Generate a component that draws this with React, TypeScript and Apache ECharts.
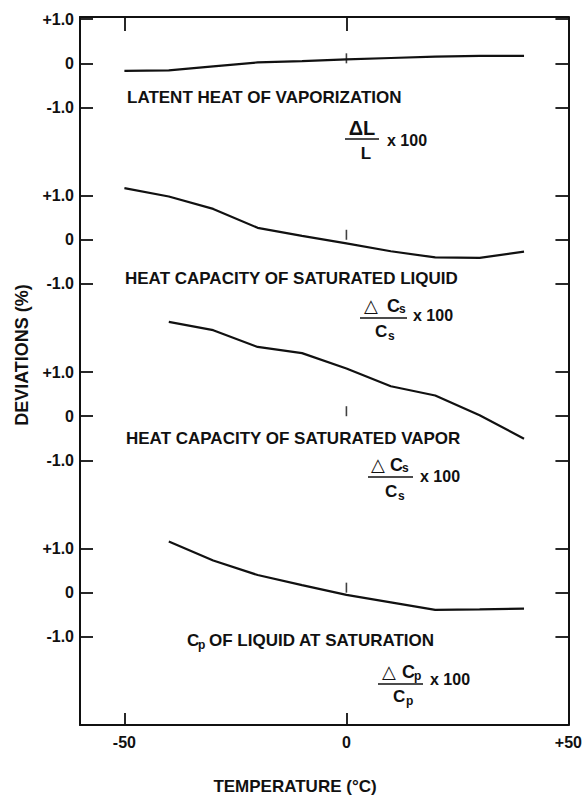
import React, { useEffect, useRef } from "react";
import * as echarts from "echarts";

// ---- data ----
const TEMPS_A = [-50, -40, -30, -20, -10, 0, 10, 20, 30, 40];
const TEMPS_B = [-40, -30, -20, -10, 0, 10, 20, 30, 40];
const LATENT_HEAT = [-0.17, -0.16, -0.07, 0.02, 0.05, 0.09, 0.12, 0.15, 0.17, 0.17];
const SAT_LIQUID = [1.17, 0.98, 0.7, 0.27, 0.09, -0.08, -0.26, -0.4, -0.41, -0.27];
const SAT_VAPOR = [2.14, 1.95, 1.57, 1.43, 1.08, 0.68, 0.47, 0.02, -0.51];
const CP_LIQUID = [1.16, 0.73, 0.4, 0.17, -0.05, -0.22, -0.39, -0.38, -0.36];
const X_TICK_LABELS = [-50, 0, 50];
const X_TICKS = [-50, 0];
const Y_REL_TICKS = [1, 0, -1];
const PANEL_NAMES = [
  "LATENT HEAT OF VAPORIZATION",
  "HEAT CAPACITY OF SATURATED LIQUID",
  "HEAT CAPACITY OF SATURATED VAPOR",
  "OF LIQUID AT SATURATION",
];

// layout: each panel is stacked 4 units below the previous one
const PANEL_STEP = 4;
const panelOffset = (i: number) => -PANEL_STEP * i;

const FONT = '"Liberation Sans", Arial, "DejaVu Sans", sans-serif';
const INK = "#111";

const txt = (
  text: string,
  x: number,
  y: number,
  size: number,
  align: string = "left",
  extra: any = {}
) => ({
  type: "text",
  x,
  y,
  ...extra,
  style: {
    text,
    font: `bold ${size}px ${FONT}`,
    fill: INK,
    align,
    verticalAlign: "middle",
  },
});

const bar = (x1: number, x2: number, y: number) => ({
  type: "line",
  shape: { x1, y1: y, x2, y2: y },
  style: { stroke: INK, lineWidth: 1.6 },
});

export default function App() {
  const ref = useRef<HTMLDivElement>(null);

  useEffect(() => {
    document.body.style.margin = "0";
    const chart = echarts.init(ref.current!, null, { renderer: "svg" });

    const panels = [
      { x: TEMPS_A, y: LATENT_HEAT },
      { x: TEMPS_A, y: SAT_LIQUID },
      { x: TEMPS_B, y: SAT_VAPOR },
      { x: TEMPS_B, y: CP_LIQUID },
    ];

    const yTicks: number[] = [];
    panels.forEach((_, i) => Y_REL_TICKS.forEach((v) => yTicks.push(v + panelOffset(i))));

    const relLabel = (v: number) => {
      const rel = Math.round(v - PANEL_STEP * Math.round(v / PANEL_STEP));
      if (rel === 1) return "+1.0";
      if (rel === 0) return "0";
      if (rel === -1) return "-1.0";
      return "";
    };

    const lineSeries = panels.map((p, i) => ({
      type: "line",
      data: p.x.map((t, k) => [t, p.y[k] + panelOffset(i)]),
      symbol: "none",
      smooth: false,
      lineStyle: { color: INK, width: 2.2 },
      z: 3,
    }));

    const zeroTicks = {
      type: "scatter",
      data: panels.map((_, i) => [0, panelOffset(i)]),
      symbol: "rect",
      symbolSize: [1.6, 10],
      symbolOffset: [0, -5],
      itemStyle: { color: INK },
      z: 2,
    };

    const axisLine = { show: true, onZero: false, lineStyle: { color: INK, width: 2 } };
    const tickStyle = { color: INK, width: 1.8 };

    const option: any = {
      animation: false,
      backgroundColor: "#fff",
      grid: { left: 80, right: 10, top: 17, bottom: 71, containLabel: false },
      xAxis: [
        {
          type: "value",
          min: -60,
          max: 50,
          position: "bottom",
          axisLine,
          axisTick: { show: true, inside: true, length: 12, customValues: X_TICKS, lineStyle: tickStyle },
          axisLabel: {
            show: true,
            customValues: X_TICK_LABELS,
            formatter: (v: number) => (v > 0 ? "+" + v : String(v)),
            margin: 9,
            color: INK,
            fontFamily: FONT,
            fontWeight: "bold",
            fontSize: 16,
          },
          splitLine: { show: false },
        },
        {
          type: "value",
          min: -60,
          max: 50,
          position: "top",
          axisLine,
          axisTick: { show: true, inside: true, length: 14, customValues: X_TICKS, lineStyle: tickStyle },
          axisLabel: { show: false },
          splitLine: { show: false },
        },
      ],
      yAxis: [
        {
          type: "value",
          min: -15,
          max: 1.05,
          position: "left",
          axisLine,
          axisTick: { show: true, inside: true, length: 13, customValues: yTicks, lineStyle: tickStyle },
          axisLabel: {
            show: true,
            customValues: yTicks,
            formatter: relLabel,
            margin: 6,
            color: INK,
            fontFamily: FONT,
            fontWeight: "bold",
            fontSize: 16,
          },
          splitLine: { show: false },
        },
        {
          type: "value",
          min: -15,
          max: 1.05,
          position: "right",
          axisLine,
          axisTick: { show: true, inside: true, length: 13, customValues: yTicks, lineStyle: tickStyle },
          axisLabel: { show: false },
          splitLine: { show: false },
        },
      ],
      series: [...lineSeries, zeroTicks],
      graphic: [
        // axis titles
        { ...txt("DEVIATIONS (%)", 22, 355, 18, "center"), rotation: Math.PI / 2 },
        txt("TEMPERATURE (\u00B0C)", 295, 786, 17, "center"),
        // panel 1
        txt(PANEL_NAMES[0], 127, 97, 17),
        txt("\u0394L", 362, 128, 20, "center"),
        bar(345, 379, 139),
        txt("L", 366, 153, 17, "center"),
        txt("x 100", 387, 140, 16),
        // panel 2
        txt(PANEL_NAMES[1], 125, 278, 17),
        txt("\u25B3", 371, 306, 18, "center"),
        txt("C", 387, 306, 18),
        txt("s", 399, 309, 12),
        bar(360, 407, 318),
        txt("C", 375, 331, 17),
        txt("s", 388, 336, 12),
        txt("x 100", 413, 315, 16),
        // panel 3
        txt(PANEL_NAMES[2], 126, 438, 17),
        txt("\u25B3", 378, 465, 18, "center"),
        txt("C", 390, 465, 18),
        txt("s", 402, 468, 12),
        bar(368, 413, 477),
        txt("C", 385, 491, 17),
        txt("s", 398, 496, 12),
        txt("x 100", 420, 476, 16),
        // panel 4
        txt("C", 187, 640, 17),
        txt("p", 198, 645, 12),
        txt(PANEL_NAMES[3], 209, 640, 17),
        txt("\u25B3", 389, 672, 18, "center"),
        txt("C", 402, 672, 18),
        txt("p", 414, 676, 12),
        bar(378, 423, 684),
        txt("C", 393, 696, 17),
        txt("p", 406, 701, 12),
        txt("x 100", 430, 679, 16),
      ],
    };

    chart.setOption(option);
    return () => chart.dispose();
  }, []);

  return (
    <div
      ref={ref}
      style={{ position: "fixed", left: 0, top: 0, width: 585, height: 796, background: "#fff" }}
    />
  );
}
